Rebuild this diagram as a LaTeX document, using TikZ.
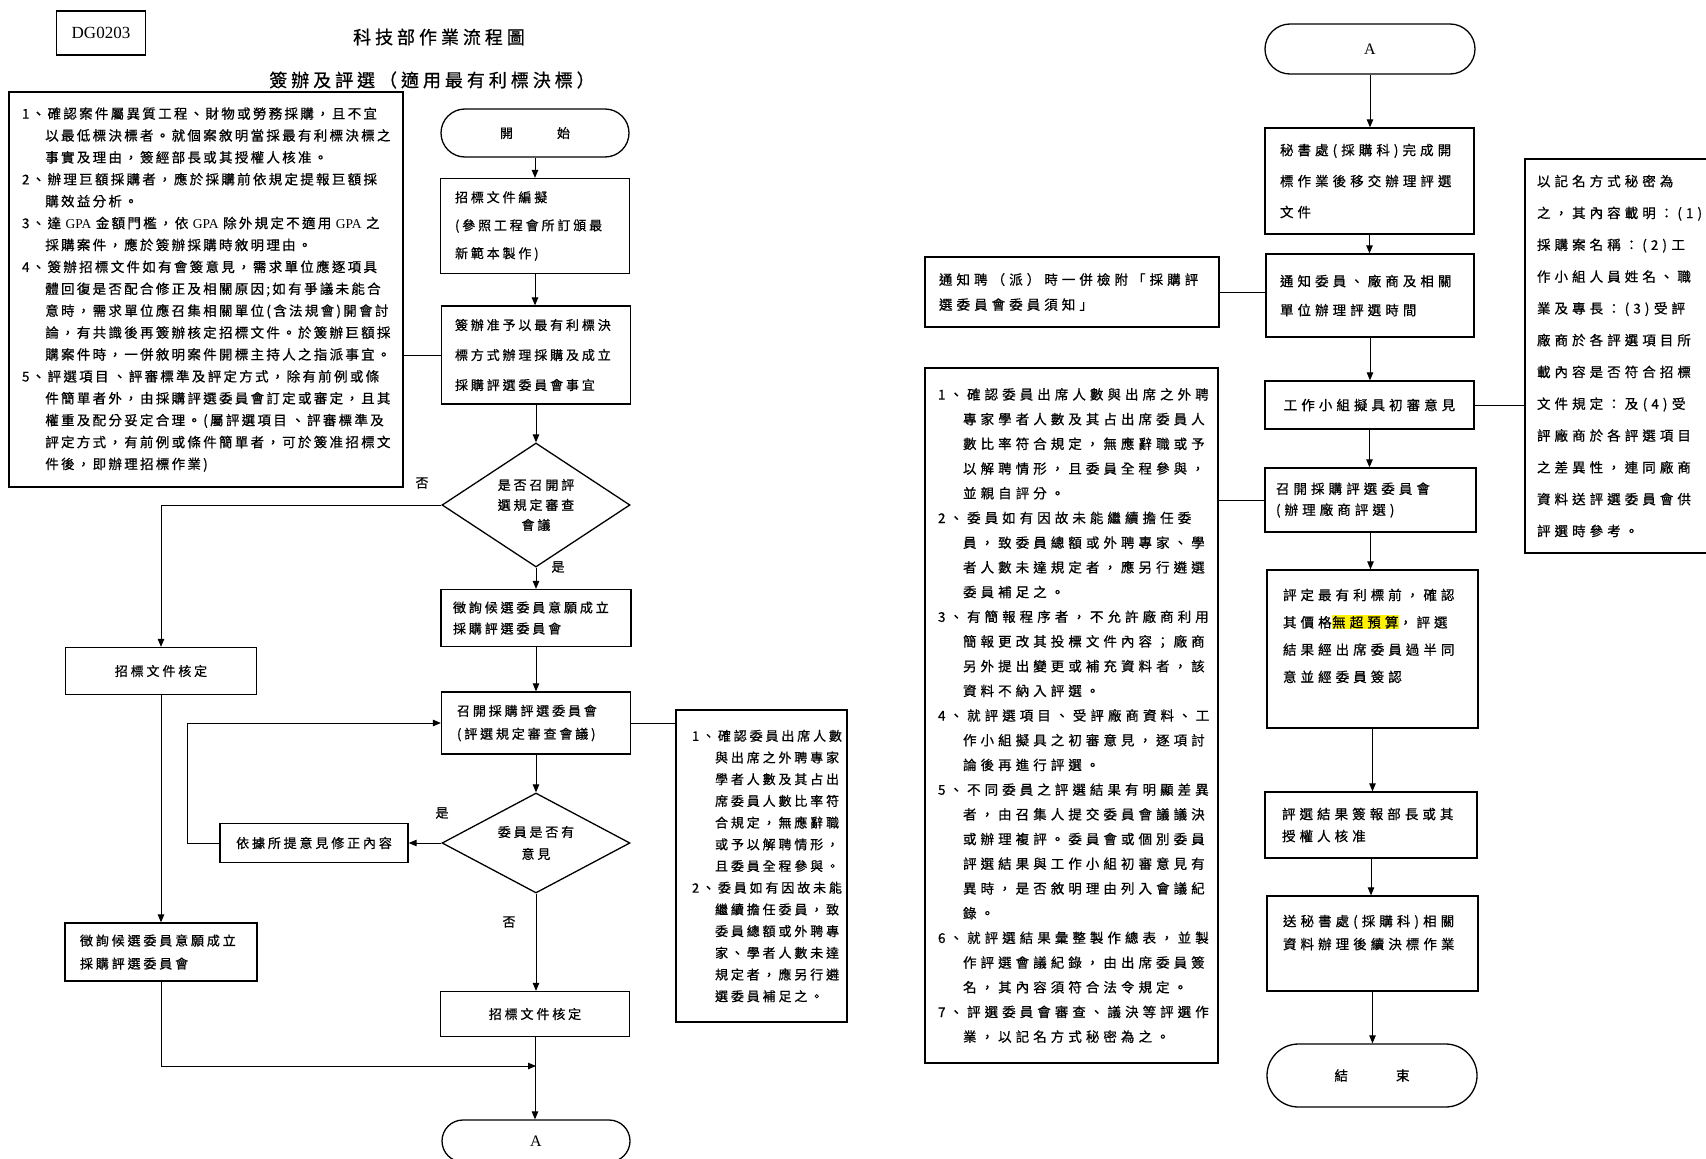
\documentclass[tikz,border=0pt]{standalone}
\usepackage{fontspec}
\usepackage{xcolor}
\usetikzlibrary{shapes.geometric,shapes.misc,arrows.meta}
\newfontfamily\cjka[LetterSpace=22,FakeBold=0.7]{Noto Sans CJK TC}
\newfontfamily\cjkb[LetterSpace=30,FakeBold=0.7]{Noto Sans CJK TC}
\newfontfamily\cjkc[LetterSpace=17,FakeBold=0.7]{Noto Sans CJK TC}
\newfontfamily\cjkt[LetterSpace=22,FakeBold=0.7]{Noto Sans CJK TC}
\newfontfamily\latn{Liberation Serif}
\newcommand\setfs[2]{\fontsize{#1}{#2}\selectfont}
\newcommand\ind{\phantom{1、}}
\setlength\fboxsep{0.6pt}
\begin{document}
\begin{tikzpicture}[x=1pt,y=-1pt,
    box/.style={draw,line width=1.3pt,inner sep=0pt,align=left},
    term/.style={draw,line width=1.3pt,rounded rectangle,inner sep=0pt},
    dec/.style={draw,diamond,line width=1.3pt,inner sep=0pt,align=center,font=\cjka\setfs{13}{20}},
    arr/.style={-{Triangle[length=8pt,width=6.5pt]},line width=1pt},
    ln/.style={line width=1pt},
    lbl/.style={font=\cjka\setfs{13}{14}}]
\useasboundingbox (0,0) rectangle (1706,1159);

\node[box,align=center,minimum width=89,minimum height=44,font=\latn\setfs{17}{18}] (code) at (101,33) {DG0203};
\node[font=\cjkt\setfs{18}{20}] (title) at (439,37) {科技部作業流程圖};
\node[font=\cjkt\setfs{18}{20}] (subtitle) at (432,80) {簽辦及評選（適用最有利標決標）};

\node[box,minimum width=394,minimum height=395,text width=368,font=\cjkc\setfs{13.5}{21.9}] (notesL) at (206,289.5) {
1、確認案件屬異質工程、財物或勞務採購，且不宜\\
\ind 以最低標決標者。就個案敘明當採最有利標決標之\\
\ind 事實及理由，簽經部長或其授權人核准。\\
2、辦理巨額採購者，應於採購前依規定提報巨額採\\
\ind 購效益分析。\\
3、達~{\latn GPA}~金額門檻，依~{\latn GPA}~除外規定不適用~{\latn GPA}~之\\
\ind 採購案件，應於簽辦採購時敘明理由。\\
4、簽辦招標文件如有會簽意見，需求單位應逐項具\\
\ind 體回復是否配合修正及相關原因;如有爭議未能合\\
\ind 意時，需求單位應召集相關單位(含法規會)開會討\\
\ind 論，有共識後再簽辦核定招標文件。於簽辦巨額採\\
\ind 購案件時，一併敘明案件開標主持人之指派事宜。\\
5、評選項目~、評審標準及評定方式，除有前例或條\\
\ind 件簡單者外，由採購評選委員會訂定或審定，且其\\
\ind 權重及配分妥定合理。(屬評選項目~、評審標準及\\
\ind 評定方式，有前例或條件簡單者，可於簽准招標文\\
\ind 件後，即辦理招標作業)};

\node[term,minimum width=188,minimum height=48,font=\cjka\setfs{13}{14}] (start) at (535,133) {開\hspace{44pt}始};
\node[box,minimum width=189,minimum height=95,text width=160,font=\cjka\setfs{13}{28}] (draft) at (535,226) {招標文件編擬\\(參照工程會所訂頒最\\新範本製作)};
\node[box,minimum width=189,minimum height=98,text width=162,font=\cjka\setfs{13}{30}] (approve) at (536,355) {簽辦准予以最有利標決\\標方式辦理採購及成立\\採購評選委員會事宜};
\node[dec,minimum width=188,minimum height=124,aspect=1.5] (askMeet) at (536,505) {是否召開評\\選規定審查\\會議};
\node[box,minimum width=190,minimum height=57,text width=166,font=\cjka\setfs{13}{21}] (invite) at (536,618) {徵詢候選委員意願成立\\採購評選委員會};
\node[box,minimum width=189,minimum height=62,text width=158,font=\cjka\setfs{13}{23}] (meet) at (536,723) {召開採購評選委員會\\(評選規定審查會議)};
\node[dec,minimum width=188,minimum height=100,aspect=1.9,font=\cjka\setfs{13}{22}] (askOpin) at (536,843) {委員是否有\\意見};
\node[box,align=center,minimum width=188,minimum height=39,font=\cjka\setfs{13}{14}] (revise) at (314,843) {依據所提意見修正內容};
\node[box,align=center,minimum width=189,minimum height=45,font=\cjka\setfs{13}{14}] (fixR) at (535,1014) {招標文件核定};
\node[term,minimum width=188,minimum height=42,font=\latn\setfs{16}{18}] (contA) at (536,1141) {A};
\node[box,align=center,minimum width=191,minimum height=47,font=\cjka\setfs{13}{14}] (fixL) at (161,671) {招標文件核定};
\node[box,minimum width=192,minimum height=58,text width=162,font=\cjka\setfs{13}{23}] (inviteL) at (161,952) {徵詢候選委員意願成立\\採購評選委員會};

\node[box,minimum width=171,minimum height=312,text width=139,font=\cjka\setfs{13}{21.7}] (noteR) at (761.5,866) {
1、確認委員出席人數\\
\ind 與出席之外聘專家\\
\ind 學者人數及其占出\\
\ind 席委員人數比率符\\
\ind 合規定，無應辭職\\
\ind 或予以解聘情形，\\
\ind 且委員全程參與。\\
2、委員如有因故未能\\
\ind 繼續擔任委員，致\\
\ind 委員總額或外聘專\\
\ind 家、學者人數未達\\
\ind 規定者，應另行遴\\
\ind 選委員補足之。};

\node[lbl] (noA) at (422,483) {否};
\node[lbl] (yesA) at (558,567) {是};
\node[lbl] (yesB) at (442,813) {是};
\node[lbl] (noB) at (509,922) {否};

\coordinate (loopL) at (187,843);
\coordinate (join) at (536,1066);

\foreach \p/\q in {start/draft,draft/approve,approve/askMeet,askMeet/invite,invite/meet,meet/askOpin,askOpin/fixR,fixR/contA,fixL/inviteL}{
    \draw[arr] (\p.south) -- (\p.south |- \q.north);
}
\draw[arr] (askMeet.west) -| (fixL.north);
\draw[arr] (askOpin.west) -- (revise.east);
\draw[arr] (revise.west) -- (loopL) |- (meet.west);
\draw[arr] (inviteL.south) |- (join);
\draw[ln] (notesL.east |- approve) -- (approve.west);
\draw[ln] (meet.east) -- (meet.east -| noteR.west);

\node[term,minimum width=210,minimum height=50,font=\latn\setfs{16}{18}] (contB) at (1370,49) {A};
\node[box,minimum width=209,minimum height=106,text width=179,font=\cjkb\setfs{13.5}{31}] (handover) at (1369.5,181) {秘書處(採購科)完成開\\標作業後移交辦理評選\\文件};
\node[box,minimum width=208,minimum height=83,text width=180,font=\cjkb\setfs{13.5}{29}] (notify) at (1370,295.5) {通知委員、廠商及相關\\單位辦理評選時間};
\node[box,minimum width=294,minimum height=70,text width=266,font=\cjkb\setfs{13.5}{25}] (attach) at (1072,292) {通知聘（派）時一併檢附「採購評\\選委員會委員須知」};
\node[box,align=center,minimum width=209,minimum height=48,font=\cjkb\setfs{13.5}{14}] (review) at (1369.5,405) {工作小組擬具初審意見};
\node[box,minimum width=211,minimum height=64,text width=189,font=\cjkb\setfs{13.5}{21}] (evalMeet) at (1370.5,500) {召開採購評選委員會\\(辦理廠商評選)};
\node[box,minimum width=211,minimum height=158,text width=179,font=\cjkb\setfs{13.5}{27.3}] (award) at (1372.5,649) {評定最有利標前，確認\\其價格\colorbox{yellow}{無超預算}，評選\\結果經出席委員過半同\\意並經委員簽認\\\mbox{}};
\node[box,minimum width=212,minimum height=66,text width=178,font=\cjkb\setfs{13.5}{22}] (report) at (1371,825) {評選結果簽報部長或其\\授權人核准};
\node[box,minimum width=211,minimum height=95,text width=179,font=\cjkb\setfs{13.5}{23}] (send) at (1372.5,943.5) {送秘書處(採購科)相關\\資料辦理後續決標作業\\\mbox{}};
\node[term,minimum width=210,minimum height=63,font=\cjkb\setfs{13.5}{14}] (finish) at (1372,1075.5) {結\hspace{48pt}束};

\node[box,minimum width=293,minimum height=695,text width=267,font=\cjkb\setfs{13.5}{24.7}] (rules) at (1071.5,715.5) {
1、確認委員出席人數與出席之外聘\\
\ind 專家學者人數及其占出席委員人\\
\ind 數比率符合規定，無應辭職或予\\
\ind 以解聘情形，且委員全程參與，\\
\ind 並親自評分。\\
2、委員如有因故未能繼續擔任委\\
\ind 員，致委員總額或外聘專家、學\\
\ind 者人數未達規定者，應另行遴選\\
\ind 委員補足之。\\
3、有簡報程序者，不允許廠商利用\\
\ind 簡報更改其投標文件內容；廠商\\
\ind 另外提出變更或補充資料者，該\\
\ind 資料不納入評選。\\
4、就評選項目~、受評廠商資料、工\\
\ind 作小組擬具之初審意見，逐項討\\
\ind 論後再進行評選。\\
5、不同委員之評選結果有明顯差異\\
\ind 者，由召集人提交委員會議議決\\
\ind 或辦理複評。委員會或個別委員\\
\ind 評選結果與工作小組初審意見有\\
\ind 異時，是否敘明理由列入會議紀\\
\ind 錄。\\
6、就評選結果彙整製作總表，並製\\
\ind 作評選會議紀錄，由出席委員簽\\
\ind 名，其內容須符合法令規定。\\
7、評選委員會審查、議決等評選作\\
\ind 業，以記名方式秘密為之。};

\node[box,minimum width=200,minimum height=394,text width=176,font=\cjkb\setfs{13.5}{31.8}] (record) at (1625,356) {
以記名方式秘密為\\
之，其內容載明：(1)\\
採購案名稱：(2)~工\\
作小組人員姓名、職\\
業及專長：(3)~受評\\
廠商於各評選項目所\\
載內容是否符合招標\\
文件規定：及~(4)~受\\
評廠商於各評選項目\\
之差異性，連同廠商\\
資料送評選委員會供\\
評選時參考。};

\foreach \p/\q in {contB/handover,handover/notify,notify/review,review/evalMeet,evalMeet/award,award/report,report/send,send/finish}{
    \draw[arr] (\p.south) -- (\p.south |- \q.north);
}
\draw[ln] (attach.east) -- (attach.east -| notify.west);
\draw[ln] (rules.east |- evalMeet) -- (evalMeet.west);
\draw[ln] (review.east) -- (review.east -| record.west);
\end{tikzpicture}
\end{document}
